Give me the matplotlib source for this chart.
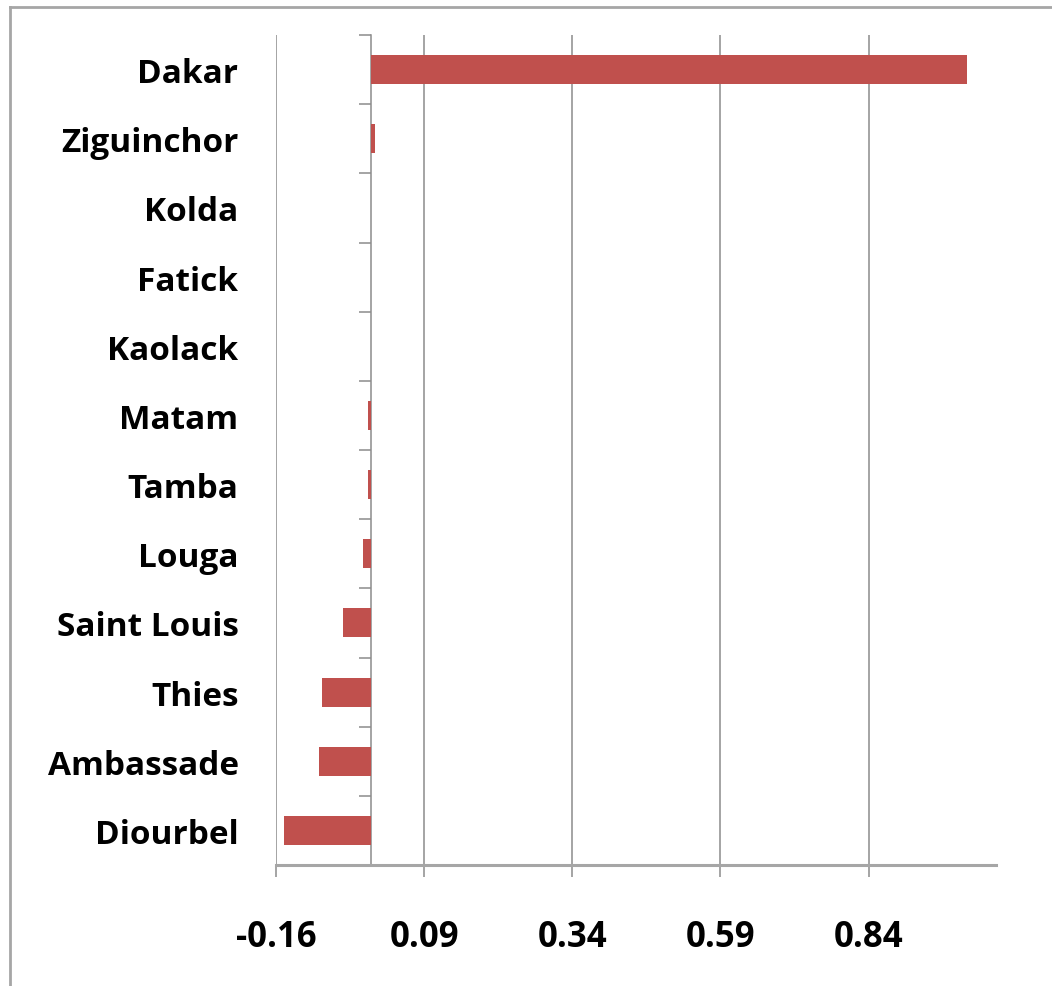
import numpy as np
import matplotlib.pyplot as plt
from matplotlib.lines import Line2D

# Data, top to bottom
regions = ["Dakar", "Ziguinchor", "Kolda", "Fatick", "Kaolack", "Matam",
           "Tamba", "Louga", "Saint Louis", "Thies", "Ambassade", "Diourbel"]
values = [1.006, 0.007, 0.0, 0.0, 0.0, -0.005,
          -0.005, -0.013, -0.047, -0.083, -0.088, -0.147]
xticks = [-0.16, 0.09, 0.34, 0.59, 0.84]
xmin, xmax = -0.16, 1.055

bar_color = "#C0504D"
grid_color = "#8C8C8C"

plt.rcParams['font.family'] = ['Open Sans', 'DejaVu Sans']

fig = plt.figure(figsize=(10.52, 9.87), dpi=100)
ax = fig.add_axes([276 / 1052, 1 - 866 / 987, 720 / 1052, 830 / 987])

n = len(regions)
ypos = np.arange(n)
ax.barh(ypos, values, height=0.42, color=bar_color, zorder=3)
ax.set_ylim(n - 0.5, -0.5)
ax.set_xlim(xmin, xmax)

# gridlines at the ticks
ax.set_xticks(xticks)
ax.set_xticklabels([f"{t:.2f}" for t in xticks], fontsize=25, fontweight="bold")
ax.xaxis.grid(True, color=grid_color, linewidth=1.1, zorder=0)
ax.tick_params(axis="x", length=8.6, width=1.1, color=grid_color, pad=30)

# category labels at left edge, no ticks there
ax.set_yticks(ypos)
ax.set_yticklabels(regions, fontsize=24, fontweight="bold")
ax.tick_params(axis="y", length=0, pad=27)

for s in ["top", "right", "left"]:
    ax.spines[s].set_visible(False)
ax.spines["bottom"].set_color("#A6A6A6")
ax.spines["bottom"].set_linewidth(2.2)

# vertical axis at zero with tick marks between categories
loc = (0 - xmin) / (xmax - xmin)
sec = ax.secondary_yaxis(loc)
sec.set_yticks(np.arange(n + 1) - 0.5)
sec.set_yticklabels([])
sec.tick_params(length=8.6, width=1.1, color=grid_color)
sec.spines["left"].set_color(grid_color)
sec.spines["left"].set_linewidth(1.1)

# outer chart frame (top and left visible)
fig.add_artist(Line2D([10 / 1052, 10 / 1052], [0, 1 - 8 / 987],
                      transform=fig.transFigure, color="#A6A6A6", linewidth=2))
fig.add_artist(Line2D([10 / 1052, 1], [1 - 8 / 987, 1 - 8 / 987],
                      transform=fig.transFigure, color="#A6A6A6", linewidth=2))

fig.savefig("out.png", dpi=100)
